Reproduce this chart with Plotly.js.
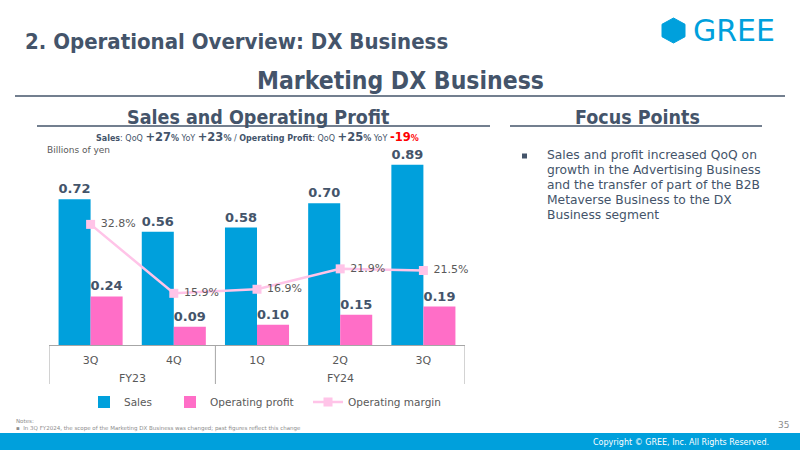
<!DOCTYPE html>
<html>
<head>
<meta charset="utf-8">
<script src="https://cdn.plot.ly/plotly-3.0.1.min.js"></script>
<style>html,body{margin:0;padding:0;background:#fff;}#chart{width:800px;height:450px;}</style>
</head>
<body>
<div id="chart"></div>
<script>
// ---- data ----
const quarters = ["3Q", "4Q", "1Q", "2Q", "3Q"];
const fiscalYears = ["FY23", "FY23", "FY24", "FY24", "FY24"];
const sales = [0.72, 0.56, 0.58, 0.70, 0.89];
const operatingProfit = [0.24, 0.09, 0.10, 0.15, 0.19];
const operatingMargin = [32.8, 15.9, 16.9, 21.9, 21.5];
const seriesNames = ["Sales", "Operating profit", "Operating margin"];
const focusLines = [
  "Sales and profit increased QoQ on",
  "growth in the Advertising Business",
  "and the transfer of part of the B2B",
  "Metaverse Business to the DX",
  "Business segment"
];

const idx = quarters.map((q, i) => i);
const W = 800, H = 450;
const px = x => x / W;
const py = y => 1 - y / H;

const DARK = "#44546a";
const GREY = "#595959";
const BLUE = "#00a0dc";
const PINK = "#ff6ec7";
const LPINK = "#ffc4e8";
const TITLEFONT = "DejaVu Sans Condensed, DejaVu Sans, sans-serif";
const BODY = "DejaVu Sans, Verdana, sans-serif";

const traces = [
  {
    type: "bar", name: seriesNames[0], x: idx, y: sales, legend: "legend",
    marker: {color: BLUE},
    texttemplate: "%{y:.2f}", textposition: "outside",
    textfont: {family: BODY, size: 13, color: DARK, weight: "bold"},
    cliponaxis: false, hoverinfo: "skip"
  },
  {
    type: "bar", name: seriesNames[1], x: idx, y: operatingProfit, legend: "legend2",
    marker: {color: PINK},
    texttemplate: "%{y:.2f}", textposition: "outside",
    textfont: {family: BODY, size: 13, color: DARK, weight: "bold"},
    cliponaxis: false, hoverinfo: "skip"
  },
  {
    type: "scatter", mode: "lines+markers+text", name: seriesNames[2], legend: "legend3",
    x: idx, y: operatingMargin, yaxis: "y2",
    line: {color: LPINK, width: 2.5},
    marker: {symbol: "square", size: 9, color: LPINK},
    texttemplate: "&nbsp;%{y:.1f}%", textposition: "middle right",
    textfont: {family: BODY, size: 11, color: GREY},
    cliponaxis: false, hoverinfo: "skip"
  }
];

// FY group labels
const fyGroups = [];
fiscalYears.forEach((fy, i) => {
  const g = fyGroups.find(o => o.fy === fy);
  if (g) { g.last = i; } else { fyGroups.push({fy: fy, first: i, last: i}); }
});

const annotations = [
  {text: "2. Operational Overview: DX Business", x: px(23), y: py(41), xanchor: "left", yanchor: "middle",
   font: {family: TITLEFONT, size: 22, color: DARK, weight: "bold"}},
  {text: "Marketing DX Business", x: px(400), y: py(80), xanchor: "center", yanchor: "middle",
   font: {family: TITLEFONT, size: 24.5, color: DARK, weight: "bold"}},
  {text: "Sales and Operating Profit", x: px(258), y: py(117), xanchor: "center", yanchor: "middle",
   font: {family: TITLEFONT, size: 19.5, color: DARK, weight: "bold"}},
  {text: "Focus Points", x: px(637), y: py(117), xanchor: "center", yanchor: "middle",
   font: {family: TITLEFONT, size: 19.5, color: DARK, weight: "bold"}},
  {text: "<b>Sales</b>: QoQ <b><span style=\"font-size:11.5px\">+27</span>%</b> YoY <b><span style=\"font-size:11.5px\">+23</span>%</b> / <b>Operating Profit</b>: QoQ <b><span style=\"font-size:11.5px\">+25</span>%</b> YoY <b><span style=\"font-size:11.5px;color:#ff0000\">-19</span><span style=\"color:#ff0000\">%</span></b>",
   x: px(257), y: py(137), xanchor: "center", yanchor: "middle",
   font: {family: BODY, size: 8, color: DARK}},
  {text: "Billions of yen", x: px(45), y: py(150), xanchor: "left", yanchor: "middle",
   font: {family: BODY, size: 9, color: GREY}},
  {text: "GREE", x: px(691), y: py(30.5), xanchor: "left", yanchor: "middle",
   font: {family: "DejaVu Sans, sans-serif", size: 30, color: BLUE}},
  {text: "Notes:", x: px(14), y: py(421), xanchor: "left", yanchor: "middle",
   font: {family: BODY, size: 5.5, color: "#8c8c8c"}},
  {text: "▪  In 3Q FY2024, the scope of the Marketing DX Business was changed; past figures reflect this change",
   x: px(14), y: py(428), xanchor: "left", yanchor: "middle",
   font: {family: BODY, size: 5.5, color: "#8c8c8c"}},
  {text: "35", x: px(791), y: py(425), xanchor: "right", yanchor: "middle",
   font: {family: BODY, size: 9, color: "#8c8c8c"}},
  {text: "Copyright © GREE, Inc. All Rights Reserved.", x: px(771), y: py(442), xanchor: "right", yanchor: "middle",
   font: {family: BODY, size: 8, color: "#ffffff"}}
];
focusLines.forEach((t, i) => {
  annotations.push({text: t, x: px(545), y: py(155 + 15 * i), xanchor: "left", yanchor: "middle",
    font: {family: BODY, size: 12.3, color: DARK}});
});
fyGroups.forEach(g => {
  annotations.push({text: g.fy, xref: "x", x: (g.first + g.last) / 2, y: py(378), yanchor: "middle",
    font: {family: BODY, size: 11, color: GREY}});
});
annotations.forEach(a => { a.showarrow = false; if (!a.xref) { a.xref = "paper"; } a.yref = "paper"; });

const shapes = [
  {type: "line", xref: "paper", yref: "paper", x0: px(15), x1: px(785), y0: py(96), y1: py(96), line: {color: DARK, width: 1.5}},
  {type: "line", xref: "paper", yref: "paper", x0: px(37), x1: px(490), y0: py(126), y1: py(126), line: {color: DARK, width: 1.5}},
  {type: "line", xref: "paper", yref: "paper", x0: px(510), x1: px(762), y0: py(126), y1: py(126), line: {color: DARK, width: 1.5}},
  {type: "rect", xref: "paper", yref: "paper", x0: px(522), x1: px(527), y0: py(153.5), y1: py(158.5), fillcolor: DARK, line: {width: 0}},
  {type: "rect", xref: "paper", yref: "paper", x0: 0, x1: 1, y0: 0, y1: py(433), fillcolor: BLUE, line: {width: 0}},
  {type: "path", xref: "paper", yref: "paper",
   path: "M " + [[673.5,18],[685,24.25],[685,36.75],[673.5,43],[662,36.75],[662,24.25]].map(p => px(p[0]) + "," + py(p[1])).join(" L ") + " Z",
   fillcolor: BLUE, line: {color: BLUE, width: 1}}
];
// category box dividers: edges and between fiscal-year groups
const dividers = [-0.5].concat(fyGroups.map(g => g.last + 0.5));
dividers.forEach(d => {
  shapes.push({type: "line", xref: "x", yref: "paper", x0: d, x1: d, y0: py(345), y1: py(384),
    line: {color: "#a6a6a6", width: 1}});
});

const legendBase = {
  orientation: "h", xanchor: "left", yanchor: "middle", y: py(402),
  font: {family: BODY, size: 10.5, color: GREY}, itemwidth: 30, bgcolor: "rgba(0,0,0,0)"
};

const layout = {
  width: W, height: H,
  margin: {l: 0, r: 0, t: 0, b: 0},
  paper_bgcolor: "#ffffff", plot_bgcolor: "#ffffff",
  showlegend: true,
  barmode: "group", bargap: 0.23, bargroupgap: 0,
  xaxis: {
    domain: [px(49), px(465)], range: [-0.5, 4.5],
    tickmode: "array", tickvals: idx, ticktext: quarters,
    tickfont: {family: BODY, size: 11, color: GREY}, ticklabelstandoff: 5,
    showline: true, linecolor: "#a6a6a6", linewidth: 1,
    ticks: "", showgrid: false, zeroline: false, fixedrange: true
  },
  yaxis: {
    domain: [py(345), py(130)], range: [0, 215 / 202.4],
    visible: false, showgrid: false, zeroline: false, fixedrange: true
  },
  yaxis2: {
    overlaying: "y", range: [(358.2 - 345) / 4.08, (358.2 - 130) / 4.08],
    visible: false, showgrid: false, zeroline: false, fixedrange: true
  },
  legend: Object.assign({}, legendBase, {x: px(84)}),
  legend2: Object.assign({}, legendBase, {x: px(170)}),
  legend3: Object.assign({}, legendBase, {x: px(308)}),
  annotations: annotations,
  shapes: shapes
};

Plotly.newPlot("chart", traces, layout, {staticPlot: true, displayModeBar: false});
</script>
</body>
</html>
